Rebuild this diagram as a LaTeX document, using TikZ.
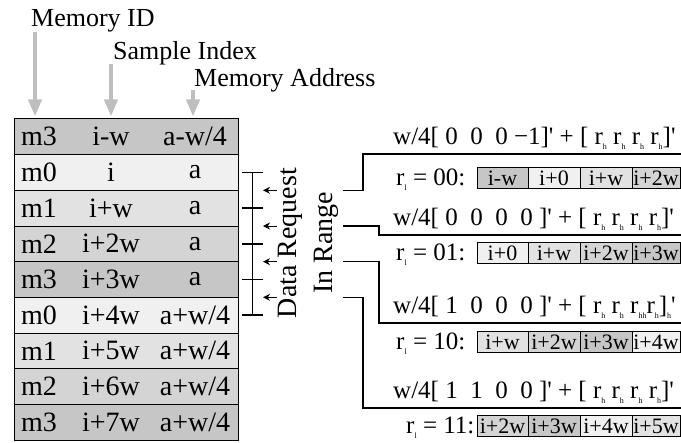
\documentclass[tikz,border=0pt]{standalone}
\usepackage{fontspec}
\setmainfont{Liberation Serif}
\usetikzlibrary{arrows.meta,calc}

\definecolor{mzero}{HTML}{F0F0F0}
\definecolor{mone}{HTML}{E2E2E2}
\definecolor{mtwo}{HTML}{D4D4D4}
\definecolor{mthree}{HTML}{C6C6C6}
\definecolor{hdrgray}{HTML}{BEBEBE}

% tiny lowered subscript used in r_h and r_l
\newcommand\lowsub[1]{\raisebox{-0.35ex}{\fontsize{8}{8}\selectfont #1}}
\newcommand\rh{r\lowsub{h}}
\newcommand\rl{r\lowsub{l}}
\newcommand\tq{\textquotesingle}

\tikzset{
  hdr/.style={font=\fontsize{26}{26}\selectfont, inner sep=0pt, anchor=base west},
  hdrarrow/.style={draw=hdrgray, line width=4pt, -{Triangle[length=17pt,width=13pt]}, shorten >=2pt},
  rowbox/.style={draw, line width=1pt, minimum width=224pt, minimum height=35.67pt, inner sep=0pt},
  celltext/.style={font=\fontsize{28}{28}\selectfont, inner sep=0pt},
  rotlabel/.style={font=\fontsize{28}{28}\selectfont, rotate=90, inner sep=0pt},
  bracket/.style={line width=1.4pt},
  reqarrow/.style={line width=1pt, -{Stealth[length=7pt,width=7pt]}},
  wire/.style={line width=1.3pt},
  expr/.style={font=\fontsize{25}{25}\selectfont, inner sep=0pt, anchor=base west},
  rlabel/.style={font=\fontsize{25}{25}\selectfont, inner sep=0pt, anchor=base west},
  slot/.style={draw, line width=0.9pt, minimum height=21pt, inner sep=0pt,
    font=\fontsize{22}{22}\selectfont},
}

% one row of the memory table: index, memory id, sample index, address, fill
\newcommand\memrow[5]{%
  \node[rowbox, fill=#5] (row#1) at (126,{119+35.67*#1+17.835}) {};
  \node[celltext, anchor=west] (mid#1) at (21,{119+35.67*#1+17.835}) {#2};
  \node[celltext] (idx#1) at (111,{119+35.67*#1+17.835}) {#3};
  \node[celltext] (adr#1) at (195,{119+35.67*#1+17.835}) {#4};
}

% one request slot: name, left edge, right edge, y centre, text, fill
\newcommand\slotcell[6]{%
  \node[slot, fill=#6, minimum width={#3-#2}] (#1) at ({(#2+#3)/2},#4) {#5};
}

\begin{document}
\begin{tikzpicture}[x=1pt,y=-1pt]
\useasboundingbox (0,0) rectangle (681,443);

% column headings
\node[hdr] (hid)  at (31,27)  {Memory ID};
\node[hdr] (hidx) at (113,60) {Sample Index};
\node[hdr] (hadr) at (194,87) {Memory Address};

% memory table
\memrow{0}{m3}{i-w}{a-w/4}{mthree}
\memrow{1}{m0}{i}{a}{mzero}
\memrow{2}{m1}{i+w}{a}{mone}
\memrow{3}{m2}{i+2w}{a}{mtwo}
\memrow{4}{m3}{i+3w}{a}{mthree}
\memrow{5}{m0}{i+4w}{a+w/4}{mzero}
\memrow{6}{m1}{i+5w}{a+w/4}{mone}
\memrow{7}{m2}{i+6w}{a+w/4}{mtwo}
\memrow{8}{m3}{i+7w}{a+w/4}{mthree}

% heading arrows
\coordinate (aid)  at (35,32);
\coordinate (aidx) at (111,64);
\coordinate (aadr) at (193,90);
\draw[hdrarrow] (aid)  -- (aid  |- row0.north);
\draw[hdrarrow] (aidx) -- (aidx |- row0.north);
\draw[hdrarrow] (aadr) -- (aadr |- row0.north);

% request bracket spanning rows m0 .. m0
\foreach \k in {1,...,5}{
  \coordinate (tl\k) at (242,{119+35.67*\k+17.835});
  \coordinate (tr\k) at (263,{119+35.67*\k+17.835});
  \draw[bracket] (tl\k) -- (tr\k);
}
\draw[bracket] ($(tl1)!0.5!(tr1)$) -- ($(tl5)!0.5!(tr5)$);

% incoming request arrows and the start points of their wires
\foreach \k in {1,...,4}{
  \coordinate (rs\k) at (277,{119+35.67*(\k+1)});
  \coordinate (re\k) at (263,{119+35.67*(\k+1)});
  \coordinate (ws\k) at (343,{119+35.67*(\k+1)});
  \draw[reqarrow] (rs\k) -- (re\k);
}

\node[rotlabel] (dreq) at (290,243) {Data Request};
\node[rotlabel] (inr)  at (326,243) {In Range};

% offset expressions
\node[expr] (e1) at (393,145) {w/4[ 0\enspace 0\enspace 0 −1]\tq{} + [ \rh\ \rh\ \rh\ \rh]\tq};
\node[expr] (e2) at (393,226) {w/4[ 0\enspace 0\enspace 0\enspace 0 ]\tq{} + [ \rh\ \rh\ \rh\ \rh]\tq};
\node[expr] (e3) at (393,314) {w/4[ 1\enspace 0\enspace 0\enspace 0 ]\tq{} + [ \rh\ \rh\ \rh\lowsub{h}\rh]\lowsub{h}\tq};
\node[expr] (e4) at (393,399) {w/4[ 1\enspace 1\enspace 0\enspace 0 ]\tq{} + [ \rh\ \rh\ \rh\ \rh]\tq};

% wires from the request bracket to the slot rows
\coordinate (we1) at (681,154);
\coordinate (we2) at (681,235);
\coordinate (we3) at (681,323);
\coordinate (we4) at (681,408);
\draw[wire] (ws1) -| (363,154) -- (we1);
\draw[wire] (ws2) -| (379,235) -- (we2);
\draw[wire] (ws3) -| (379,323) -- (we3);
\draw[wire] (ws4) -| (363,408) -- (we4);

% slot rows
\node[rlabel] (l00) at (396,186) {\rl{} = 00:};
\node[rlabel] (l01) at (396,261) {\rl{} = 01:};
\node[rlabel] (l10) at (396,350) {\rl{} = 10:};
\node[rlabel] (l11) at (406,434) {\rl{} = 11:};

\slotcell{s00a}{477}{528}{178}{i-w}{mthree}
\slotcell{s00b}{528}{580}{178}{i+0}{mzero}
\slotcell{s00c}{580}{632}{178}{i+w}{mone}
\slotcell{s00d}{632}{680}{178}{i+2w}{mtwo}

\slotcell{s01a}{477}{528}{253}{i+0}{mzero}
\slotcell{s01b}{528}{580}{253}{i+w}{mone}
\slotcell{s01c}{580}{632}{253}{i+2w}{mtwo}
\slotcell{s01d}{632}{680}{253}{i+3w}{mthree}

\slotcell{s10a}{477}{528}{342}{i+w}{mone}
\slotcell{s10b}{528}{580}{342}{i+2w}{mtwo}
\slotcell{s10c}{580}{632}{342}{i+3w}{mthree}
\slotcell{s10d}{632}{680}{342}{i+4w}{mzero}

\slotcell{s11a}{477}{528}{426}{i+2w}{mtwo}
\slotcell{s11b}{528}{580}{426}{i+3w}{mthree}
\slotcell{s11c}{580}{632}{426}{i+4w}{mzero}
\slotcell{s11d}{632}{680}{426}{i+5w}{mone}

\end{tikzpicture}
\end{document}
